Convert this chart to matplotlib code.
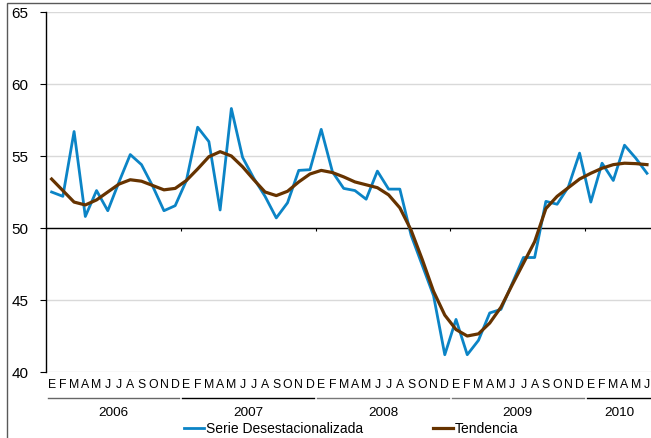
import matplotlib.pyplot as plt
import matplotlib.transforms as mtransforms
from matplotlib.patches import Rectangle

plt.rcParams['font.family'] = ['Liberation Sans', 'DejaVu Sans']

years = ["2006", "2007", "2008", "2009", "2010"]
months = ["E", "F", "M", "A", "M", "J", "J", "A", "S", "O", "N", "D"]
months_per_year = [12, 12, 12, 12, 6]

serie = [
    52.5, 52.2, 56.7, 50.8, 52.6, 51.2, 53.2, 55.1, 54.4, 52.9, 51.2, 51.55,
    53.3, 57.0, 56.0, 51.25, 58.3, 54.9, 53.45, 52.2, 50.7, 51.75, 54.0, 54.05,
    56.85, 53.9, 52.75, 52.6, 52.0, 53.95, 52.7, 52.7, 49.5, 47.4, 45.3, 41.2,
    43.65, 41.2, 42.2, 44.1, 44.35, 46.15, 47.95, 47.95, 51.85, 51.65, 52.85, 55.2,
    51.8, 54.5, 53.3, 55.75, 54.85, 53.8,
]
tendencia = [
    53.4, 52.6, 51.8, 51.6, 51.95, 52.5, 53.05, 53.35, 53.25, 52.95, 52.65, 52.75,
    53.3, 54.1, 54.95, 55.3, 55.0, 54.25, 53.35, 52.5, 52.25, 52.55, 53.2, 53.75,
    54.0, 53.85, 53.55, 53.2, 53.0, 52.8, 52.3, 51.4, 49.85, 47.8, 45.6, 43.95,
    42.95, 42.5, 42.65, 43.4, 44.5, 46.05, 47.55, 49.05, 51.35, 52.2, 52.8, 53.4,
    53.8, 54.15, 54.4, 54.5, 54.47, 54.4,
]

x = list(range(len(serie)))

fig = plt.figure(figsize=(6.51, 4.38), dpi=100)
ax = fig.add_axes([46 / 651, 1 - 372 / 438, 606.6 / 651, 360 / 438])

# frame around the whole chart
fig.patches.append(Rectangle((7 / 651, -0.02), 1.0, 1 - 3 / 438 + 0.02,
                             transform=fig.transFigure, fill=False,
                             ec='#595959', lw=1.0))

ax.plot(x, serie, color='#0B84C6', lw=2.0, label='Serie Desestacionalizada', zorder=3)
ax.plot(x, tendencia, color='#663300', lw=2.3, label='Tendencia', zorder=4)

ax.set_xlim(-0.5, len(serie) - 0.5)
ax.set_ylim(40, 65)
ax.set_yticks(range(40, 66, 5))
ax.yaxis.grid(True, color='#D9D9D9', lw=1.0)
ax.set_axisbelow(True)
ax.set_xticks([])
for s in ['top', 'right', 'bottom']:
    ax.spines[s].set_visible(False)
ax.spines['left'].set_linewidth(1.0)
ax.tick_params(axis='y', direction='out', length=4, width=0.8, labelsize=11, pad=8.5)

# category axis crossing at 50
ax.axhline(50, color='black', lw=1.0, zorder=2)
bounds = [-0.5]
for n in months_per_year:
    bounds.append(bounds[-1] + n)
ax.vlines(bounds[:-1], 49.8, 50, color='black', lw=0.8)

trans = mtransforms.blended_transform_factory(ax.transData, ax.transAxes)
line_colors = ['#666666', 'black', '#777777', '#777777', 'black']
for i, (yr, n) in enumerate(zip(years, months_per_year)):
    start = bounds[i]
    for j in range(n):
        ax.text(start + 0.5 + j, -0.036, months[j], transform=trans,
                ha='center', va='center', fontsize=8.8)
    ax.plot([start + 0.15, start + n - 0.15], [-0.073, -0.073], transform=trans,
            color=line_colors[i], lw=1.0, clip_on=False)
    ax.text(start + n / 2, -0.113, yr, transform=trans,
            ha='center', va='center', fontsize=9.7)

ax.legend(loc='center', bbox_to_anchor=(0.503, -0.157), ncol=2, frameon=False,
          fontsize=10, handlelength=1.45, handletextpad=0.15, columnspacing=5.0,
          borderpad=0, borderaxespad=0)

fig.savefig('out.png', dpi=100)
